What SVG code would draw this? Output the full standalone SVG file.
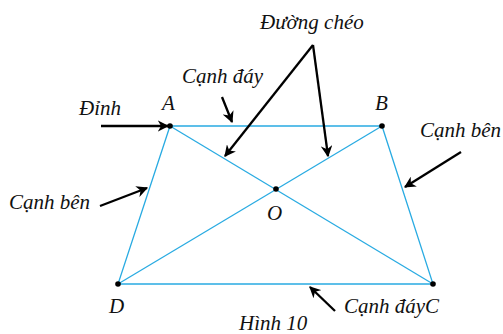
<svg xmlns="http://www.w3.org/2000/svg" width="503" height="334" viewBox="0 0 503 334">
<style>
.edge{stroke:#29abe2;stroke-width:1.3;fill:none}
.arr{stroke:#000;stroke-width:2.3;fill:none;marker-end:url(#ah)}
.lbl{font-family:"Liberation Serif","DejaVu Serif",serif;font-style:italic;font-size:21px;fill:#111}
.dot{fill:#000}
</style>
<defs>
<marker id="ah" viewBox="0 0 10 10" refX="9" refY="5" markerWidth="5" markerHeight="5" orient="auto" markerUnits="strokeWidth">
<path d="M0,0 L10,5 L0,10 L3,5 Z" fill="#000"/>
</marker>
</defs>
<g id="shape">
<polygon class="edge" points="170,126 382,126 433,284 118,284"/>
<line class="edge" x1="170" y1="126" x2="433" y2="284"/>
<line class="edge" x1="382" y1="126" x2="118" y2="284"/>
</g>
<g id="vertices">
<circle class="dot" cx="170" cy="126" r="2.8"/>
<circle class="dot" cx="382" cy="126" r="2.8"/>
<circle class="dot" cx="433" cy="284" r="2.8"/>
<circle class="dot" cx="118" cy="284" r="2.8"/>
<circle class="dot" cx="276" cy="189" r="2.8"/>
</g>
<g id="connectors">
<line class="arr" x1="101" y1="126" x2="168" y2="126"/>
<line class="arr" x1="100" y1="206" x2="147" y2="188"/>
<line class="arr" x1="222" y1="97" x2="232" y2="122"/>
<line class="arr" x1="313" y1="45" x2="225" y2="156"/>
<line class="arr" x1="313" y1="45" x2="328" y2="156"/>
<line class="arr" x1="461" y1="152" x2="405" y2="187"/>
<line class="arr" x1="335" y1="311" x2="310" y2="287"/>
</g>
<g id="labels">
<text class="lbl" x="260" y="29">Đường chéo</text>
<text class="lbl" x="182" y="83">Cạnh đáy</text>
<text class="lbl" x="162" y="110">A</text>
<text class="lbl" x="375" y="110">B</text>
<text class="lbl" x="79" y="115">Đỉnh</text>
<text class="lbl" x="9" y="209">Cạnh bên</text>
<text class="lbl" x="420" y="137">Cạnh bên</text>
<text class="lbl" x="267" y="220">O</text>
<text class="lbl" x="109" y="313">D</text>
<text class="lbl" x="344" y="313">Cạnh đáyC</text>
<text class="lbl" x="239" y="330">Hình 10</text>
</g>
</svg>
